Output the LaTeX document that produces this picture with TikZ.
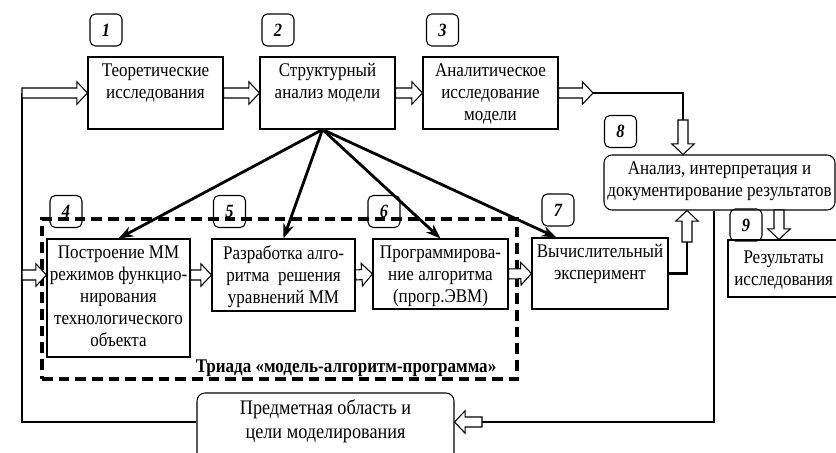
\documentclass[tikz,border=0pt]{standalone}
\usepackage{fontspec}
\setmainfont{Liberation Serif}[FakeStretch=0.88]
\usetikzlibrary{arrows.meta,calc,fit}

\tikzset{
  blk/.style={draw, line width=0.8pt, inner sep=0pt},
  rblk/.style={blk, rounded corners=6pt},
  txt/.style={anchor=north, align=center, inner sep=5pt, font=\fontsize{14.5}{16.5}\selectfont},
  num/.style={draw, line width=0.8pt, rounded corners=4pt, minimum width=24pt, minimum height=24pt,
    inner sep=0pt, font=\fontsize{14}{16}\selectfont\bfseries\itshape},
  thk/.style={line width=2.1pt},
  fan/.style={thk, -{Stealth[length=11pt,width=8pt]}},
  fb/.style={line width=1.6pt},
  hollowarr/.style={draw, line width=0.8pt, fill=white, line join=miter},
  triad/.style={draw, line width=2.7pt, dash pattern=on 8pt off 4.5pt, inner sep=0pt},
}

% hollow block arrow from #1 to #2
\newcommand{\hollow}[2]{%
  \coordinate (hs) at (#1);
  \coordinate (ht) at (#2);
  \coordinate (hb) at ($(ht)!8pt!(hs)$);
  \draw[hollowarr] ($(hs)!3.75pt!90:(ht)$) -- ($(hb)!3.75pt!90:(ht)$) -- ($(hb)!8.5pt!90:(ht)$)
    -- (ht) -- ($(hb)!8.5pt!-90:(ht)$) -- ($(hb)!3.75pt!-90:(ht)$) -- ($(hs)!3.75pt!-90:(ht)$) -- cycle;
}

\begin{document}
\begin{tikzpicture}[x=0.75pt, y=-0.75pt]
  \useasboundingbox (0,0) rectangle (836,453);
  \clip (0,0) rectangle (836,453);

  % dashed frame of the triad
  \node[triad, fit={(42,219) (517,379)}] (tri) {};
  \node[font=\fontsize{14.5}{16.5}\selectfont\bfseries, anchor=base east] (trilbl) at (501,372)
    {Триада «модель-алгоритм-программа»};

  % blocks
  \node[blk, fit={(88,57) (223,129)}, label={[txt]north:{Теоретические\\исследования}}] (b1) {};
  \node[blk, fit={(260,57) (395,129)}, label={[txt]north:{Структурный\\анализ модели}}] (b2) {};
  \node[blk, fit={(423,57) (558,129)}, label={[txt]north:{Аналитическое\\исследование\\модели}}] (b3) {};
  \node[blk, fit={(47,239) (190,357)},
    label={[txt]north:{Построение ММ\\режимов функцио-\\нирования\\технологического\\объекта}}] (b4) {};
  \node[blk, fit={(212,239) (355,311)}, label={[txt]north:{Разработка алго-\\ритма\ \ решения\\уравнений ММ}}] (b5) {};
  \node[blk, fit={(373,239) (508,309)}, label={[txt]north:{Программирова-\\ние алгоритма\\(прогр.ЭВМ)}}] (b6) {};
  \node[blk, fit={(532,238) (668,309)}, label={[txt]north:{Вычислительный\\эксперимент}}] (b7) {};
  \node[rblk, fit={(604,155) (835,210)},
    label={[txt]north:{Анализ, интерпретация и\\документирование результатов}}] (b8) {};
  \node[blk, fit={(728,240) (850,297)},
    label={[txt, yshift=-3pt, xshift=-4pt]north:{Результаты\\исследования}}] (b9) {};
  \node[rblk, fit={(197,393) (454,462)},
    label={[txt, font=\fontsize{15.5}{18.5}\selectfont]north:{Предметная область и\\цели моделирования}}] (b10) {};

  % numbers
  \node[num] (n1) at (106,30) {1};
  \node[num] (n2) at (278,30) {2};
  \node[num] (n3) at (442.5,30) {3};
  \node[num] (n4) at (66,211.5) {4};
  \node[num] (n5) at (229.5,211.5) {5};
  \node[num] (n6) at (384,211.5) {6};
  \node[num] (n7) at (558,210) {7};
  \node[num] (n8) at (620.5,131.5) {8};
  \node[num] (n9) at (746,225) {9};

  % route corners
  \coordinate (fbL) at (22,422);
  \coordinate (fbR) at (714,422);
  \coordinate (k3) at (593,93);
  \coordinate (k8) at (683,120);
  \coordinate (k7) at (687,242);
  \coordinate (k9) at (779,210);
  \coordinate (k10) at (482,422);
  \coordinate (src) at ($(b2.south)+(-5,0)$);

  % fan from the structural analysis
  \draw[fan] (src) -- (b4.north);
  \draw[fan] (src) -- (b5.north);
  \draw[fan] (src) -- (b6.north);
  \draw[fan] (src) -- ($(b7.north west)+(25,0)$);

  % thick routes
  \draw[thk] (k3) -- (k3 -| k8) -- (k8);
  \draw[thk] (b7.east) -- (b7.east -| k7) -- (k7);
  \draw[thk] (b8.south -| fbR) -- (fbR) -- (k10);
  \draw[fb] (b10.west |- fbL) -- (fbL) -- (fbL |- b1.west);

  % hollow arrows
  \hollow{fbL |- b1.west}{b1.west}
  \hollow{b1.east}{b2.west}
  \hollow{b2.east}{b3.west}
  \hollow{b3.east}{k3}
  \hollow{k8}{k8 |- b8.north}
  \hollow{k7}{k7 |- b8.south}
  \hollow{k9}{k9 |- b9.north}
  \hollow{k10}{b10.east |- fbR}
  \hollow{fbL |- b5.west}{b4.west |- b5.west}
  \hollow{b4.east |- b5.west}{b5.west}
  \hollow{b5.east}{b6.west}
  \hollow{b6.east}{b7.west}
\end{tikzpicture}
\end{document}
